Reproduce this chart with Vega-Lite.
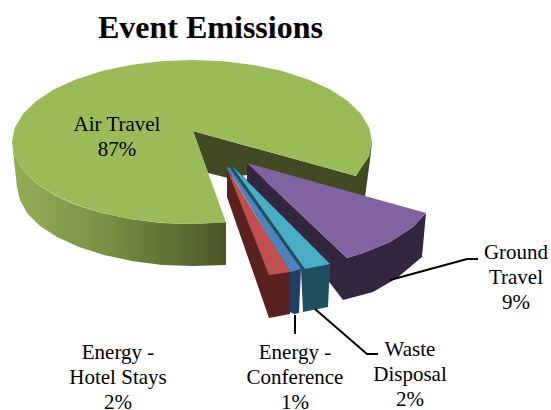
{"$schema":"https://vega.github.io/schema/vega-lite/v6.json","width":551,"height":410,"padding":0,"autosize":"none","background":"white","view":{"stroke":null},
"title":{"text":"Event Emissions","font":"Liberation Serif","fontSize":32,"fontWeight":"bold","color":"#000000","anchor":"start","frame":"group","dx":98,"offset":-70,"baseline":"alphabetic"},
"datasets":{
"side":[
{"part":"Air side","i":0,"x":12,"y":142},{"part":"Air side","i":1,"x":14.7,"y":156},{"part":"Air side","i":2,"x":22.9,"y":170},{"part":"Air side","i":3,"x":36,"y":183},{"part":"Air side","i":4,"x":54,"y":195},{"part":"Air side","i":5,"x":76,"y":205},{"part":"Air side","i":6,"x":102,"y":213},{"part":"Air side","i":7,"x":130,"y":219},{"part":"Air side","i":8,"x":161,"y":223},{"part":"Air side","i":9,"x":192,"y":224},{"part":"Air side","i":10,"x":226,"y":222},{"part":"Air side","i":11,"x":226,"y":265},{"part":"Air side","i":12,"x":193,"y":266},{"part":"Air side","i":13,"x":162,"y":265},{"part":"Air side","i":14,"x":132,"y":261},{"part":"Air side","i":15,"x":104,"y":255},{"part":"Air side","i":16,"x":79,"y":247},{"part":"Air side","i":17,"x":57,"y":237},{"part":"Air side","i":18,"x":40,"y":226},{"part":"Air side","i":19,"x":27,"y":213},{"part":"Air side","i":20,"x":20,"y":200},{"part":"Air side","i":21,"x":17,"y":187}
],
"shapes":[
{"part":"Air back","i":0,"x":193,"y":131},{"part":"Air back","i":1,"x":356,"y":176},{"part":"Air back","i":2,"x":372,"y":142},{"part":"Air back","i":3,"x":370,"y":160},{"part":"Air back","i":4,"x":365,"y":197},{"part":"Air back","i":5,"x":300,"y":190},{"part":"Air back","i":6,"x":247,"y":175},{"part":"Air back","i":7,"x":228,"y":178},{"part":"Air back","i":8,"x":208,"y":173},
{"part":"Air top","i":0,"x":193,"y":131},{"part":"Air top","i":1,"x":226,"y":222.5},{"part":"Air top","i":2,"x":192,"y":224},{"part":"Air top","i":3,"x":160.7,"y":222.8},{"part":"Air top","i":4,"x":130.4,"y":219},{"part":"Air top","i":5,"x":102,"y":213},{"part":"Air top","i":6,"x":76.3,"y":204.8},{"part":"Air top","i":7,"x":54.1,"y":194.7},{"part":"Air top","i":8,"x":36.1,"y":183},{"part":"Air top","i":9,"x":22.9,"y":170},{"part":"Air top","i":10,"x":14.7,"y":156.2},{"part":"Air top","i":11,"x":12,"y":142},{"part":"Air top","i":12,"x":14.7,"y":127.8},{"part":"Air top","i":13,"x":22.9,"y":114},{"part":"Air top","i":14,"x":36.1,"y":101},{"part":"Air top","i":15,"x":54.1,"y":89.3},{"part":"Air top","i":16,"x":76.3,"y":79.2},{"part":"Air top","i":17,"x":102,"y":71},{"part":"Air top","i":18,"x":130.4,"y":65},{"part":"Air top","i":19,"x":160.7,"y":61.2},{"part":"Air top","i":20,"x":192,"y":60},{"part":"Air top","i":21,"x":223.3,"y":61.2},{"part":"Air top","i":22,"x":253.6,"y":65},{"part":"Air top","i":23,"x":282,"y":71},{"part":"Air top","i":24,"x":307.7,"y":79.2},{"part":"Air top","i":25,"x":329.9,"y":89.3},{"part":"Air top","i":26,"x":347.9,"y":101},{"part":"Air top","i":27,"x":361.1,"y":114},{"part":"Air top","i":28,"x":369.3,"y":127.8},{"part":"Air top","i":29,"x":372,"y":142},{"part":"Air top","i":30,"x":369.3,"y":156.2},{"part":"Air top","i":31,"x":356,"y":176},
{"part":"Ground side","i":0,"x":247,"y":163},{"part":"Ground side","i":1,"x":347,"y":258},{"part":"Ground side","i":2,"x":363,"y":253},{"part":"Ground side","i":3,"x":390,"y":242},{"part":"Ground side","i":4,"x":413,"y":227},{"part":"Ground side","i":5,"x":426,"y":213},{"part":"Ground side","i":6,"x":422,"y":257},{"part":"Ground side","i":7,"x":397,"y":278},{"part":"Ground side","i":8,"x":373,"y":292},{"part":"Ground side","i":9,"x":343,"y":300},{"part":"Ground side","i":10,"x":330,"y":283},{"part":"Ground side","i":11,"x":247,"y":185},
{"part":"Ground top","i":0,"x":247,"y":163},{"part":"Ground top","i":1,"x":426,"y":213},{"part":"Ground top","i":2,"x":413,"y":227},{"part":"Ground top","i":3,"x":390,"y":242},{"part":"Ground top","i":4,"x":363,"y":253},{"part":"Ground top","i":5,"x":347,"y":258},
{"part":"Waste side","i":0,"x":228,"y":167},{"part":"Waste side","i":1,"x":233,"y":166},{"part":"Waste side","i":2,"x":330,"y":264},{"part":"Waste side","i":3,"x":328,"y":307},{"part":"Waste side","i":4,"x":303,"y":312},{"part":"Waste side","i":5,"x":301,"y":269},
{"part":"Waste top","i":0,"x":232,"y":166},{"part":"Waste top","i":1,"x":330,"y":264},{"part":"Waste top","i":2,"x":305,"y":269},
{"part":"Conference side","i":0,"x":228,"y":168},{"part":"Conference side","i":1,"x":301,"y":269},{"part":"Conference side","i":2,"x":299,"y":313},{"part":"Conference side","i":3,"x":294,"y":314},{"part":"Conference side","i":4,"x":290,"y":312},{"part":"Conference side","i":5,"x":290,"y":272},
{"part":"Conference top","i":0,"x":227,"y":168},{"part":"Conference top","i":1,"x":229,"y":167},{"part":"Conference top","i":2,"x":301,"y":269},{"part":"Conference top","i":3,"x":290,"y":272},
{"part":"Hotel side","i":0,"x":227,"y":169},{"part":"Hotel side","i":1,"x":290,"y":272},{"part":"Hotel side","i":2,"x":290,"y":314},{"part":"Hotel side","i":3,"x":269,"y":318},{"part":"Hotel side","i":4,"x":227,"y":197},
{"part":"Hotel top","i":0,"x":227,"y":169},{"part":"Hotel top","i":1,"x":290,"y":272},{"part":"Hotel top","i":2,"x":269,"y":275}
],
"leaders":[
{"leader":"Ground","i":0,"x":390,"y":280},{"leader":"Ground","i":1,"x":467,"y":259},{"leader":"Ground","i":2,"x":478,"y":259},
{"leader":"Waste","i":0,"x":315,"y":309},{"leader":"Waste","i":1,"x":367,"y":354},{"leader":"Waste","i":2,"x":378,"y":354},
{"leader":"Conference","i":0,"x":295,"y":315},{"leader":"Conference","i":1,"x":295,"y":334}
],
"labels":[
{"label":"Air Travel\n87%","x":117,"y":125},
{"label":"Ground\nTravel\n9%","x":516,"y":253},
{"label":"Waste\nDisposal\n2%","x":410,"y":350},
{"label":"Energy -\nHotel Stays\n2%","x":118,"y":353},
{"label":"Energy -\nConference\n1%","x":295,"y":353}
]},
"layer":[
{"data":{"name":"side"},"mark":{"type":"line","strokeWidth":0,"fill":{"gradient":"linear","x1":0,"y1":0,"x2":1,"y2":0,"stops":[{"offset":0,"color":"#93ad55"},{"offset":0.35,"color":"#7f9849"},{"offset":1,"color":"#4a5827"}]}},
"encoding":{
"x":{"field":"x","type":"quantitative","scale":{"domain":[0,551],"nice":false,"zero":false},"axis":null},
"y":{"field":"y","type":"quantitative","scale":{"domain":[410,0],"nice":false,"zero":false},"axis":null},
"order":{"field":"i","type":"quantitative"},
"detail":{"field":"part"}
}},
{"data":{"name":"shapes"},"mark":{"type":"line","strokeWidth":0,"interpolate":"linear"},
"encoding":{
"x":{"field":"x","type":"quantitative"},
"y":{"field":"y","type":"quantitative"},
"order":{"field":"i","type":"quantitative"},
"detail":{"field":"part"},
"fill":{"field":"part","type":"nominal","legend":null,"sort":null,"scale":{"domain":["Air back","Air top","Ground side","Ground top","Waste side","Waste top","Conference side","Conference top","Hotel side","Hotel top"],"range":["#414a22","#9bbb59","#33263f","#8064a2","#1f5060","#4bacc6","#243f60","#4f81bd","#5a2121","#c0504d"]}}
}},
{"data":{"name":"leaders"},"mark":{"type":"line","stroke":"#000000","strokeWidth":2},
"encoding":{
"x":{"field":"x","type":"quantitative"},
"y":{"field":"y","type":"quantitative"},
"order":{"field":"i","type":"quantitative"},
"detail":{"field":"leader"}
}},
{"data":{"name":"labels"},"mark":{"type":"text","font":"Liberation Serif","fontSize":21,"lineHeight":25,"lineBreak":"\n","align":"center","baseline":"middle","color":"#000000"},
"encoding":{
"x":{"field":"x","type":"quantitative"},
"y":{"field":"y","type":"quantitative"},
"text":{"field":"label"}
}}
]}
